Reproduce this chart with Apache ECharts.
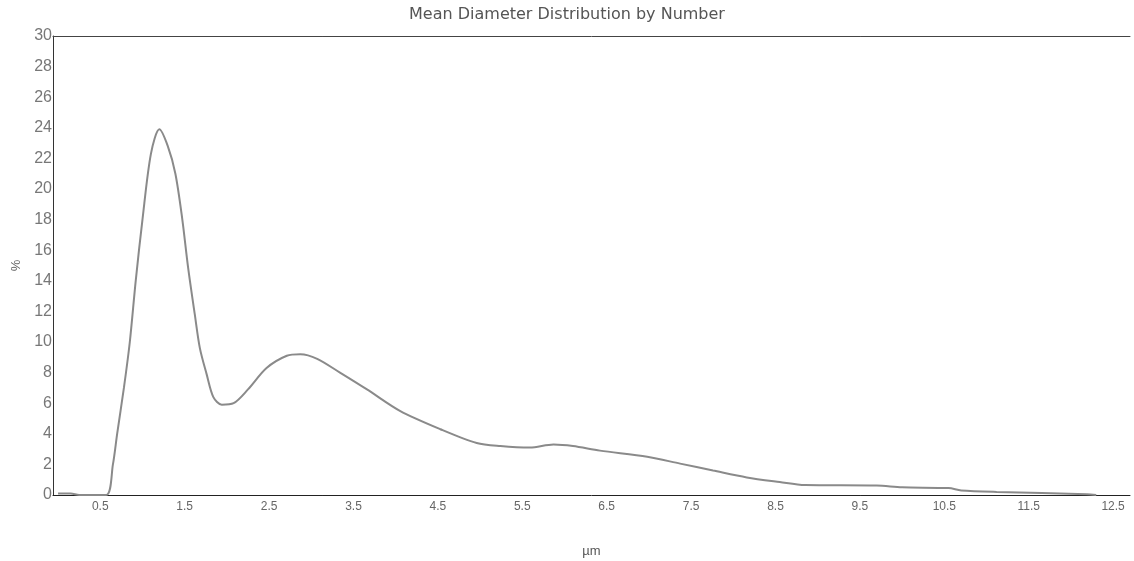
<!DOCTYPE html>
<html>
<head>
<meta charset="utf-8">
<script src="https://cdn.jsdelivr.net/npm/echarts@6/dist/echarts.min.js"></script>
<style>
  html, body { margin: 0; padding: 0; background: #fff; }
  #main { width: 1134px; height: 561px; }
</style>
</head>
<body>
<div id="main"></div>
<script>
// diameter (µm) and % by number
const diameter = [0, 0.15, 0.25, 0.57, 0.65, 0.70, 0.78, 0.85, 0.92, 1.0, 1.1, 1.2, 1.3, 1.39, 1.47, 1.54, 1.62, 1.68, 1.76, 1.84, 1.94, 2.08, 2.25, 2.47, 2.71, 2.87, 3.07, 3.34, 3.66, 4.05, 4.53, 4.96, 5.24, 5.59, 5.87, 6.1, 6.42, 6.98, 7.37, 7.76, 8.16, 8.55, 8.85, 9.7, 10.0, 10.55, 10.7, 11.12, 12.19, 12.3];
const percent = [0.1, 0.1, 0, 0, 2.0, 4.0, 7.0, 10.0, 14.0, 18.0, 22.3, 23.9, 22.8, 21.0, 18.1, 14.9, 11.8, 9.6, 7.9, 6.4, 5.9, 6.0, 6.9, 8.3, 9.1, 9.2, 8.9, 8.0, 6.9, 5.5, 4.3, 3.4, 3.2, 3.1, 3.3, 3.2, 2.9, 2.5, 2.05, 1.6, 1.15, 0.85, 0.65, 0.62, 0.5, 0.45, 0.3, 0.2, 0.05, 0];
const xTicks = [0.5, 1.5, 2.5, 3.5, 4.5, 5.5, 6.5, 7.5, 8.5, 9.5, 10.5, 11.5, 12.5];

let chart = echarts.init(document.getElementById('main'));
let option = {
  backgroundColor: '#fff',
  animation: false,
  title: {
    text: 'Mean Diameter Distribution by Number',
    left: 'center',
    top: 2,
    textStyle: { fontFamily: 'DejaVu Sans', fontSize: 16, fontWeight: 'normal', color: '#555' }
  },
  grid: { left: 53, right: 4, top: 36, bottom: 66, outerBoundsMode: 'none' },
  xAxis: [{
    type: 'value',
    min: -0.06,
    max: 12.7,
    name: 'µm',
    nameLocation: 'middle',
    nameGap: 50,
    nameTextStyle: { fontFamily: 'Liberation Sans', fontSize: 13, color: '#555' },
    axisLine: { show: true, onZero: false, lineStyle: { color: '#222', width: 1 } },
    axisTick: { show: false },
    splitLine: { show: false },
    axisLabel: {
      customValues: xTicks,
      margin: 6,
      fontFamily: 'Liberation Sans',
      fontSize: 12,
      color: '#666'
    }
  }, {
    type: 'value',
    position: 'top',
    min: -0.06,
    max: 12.7,
    axisLine: { show: true, onZero: false, lineStyle: { color: '#444', width: 1 } },
    axisTick: { show: false },
    axisLabel: { show: false },
    splitLine: { show: false }
  }],
  yAxis: {
    type: 'value',
    min: 0,
    max: 30,
    interval: 2,
    name: '%',
    nameLocation: 'middle',
    nameGap: 22,
    nameTextStyle: { fontFamily: 'Liberation Sans', fontSize: 13, color: '#666' },
    axisLine: { show: true, onZero: false, lineStyle: { color: '#333', width: 1 } },
    axisTick: { show: false },
    splitLine: { show: false },
    axisLabel: { margin: 1, fontFamily: 'Liberation Sans', fontSize: 16, color: '#777' }
  },
  series: [{
    type: 'line',
    data: diameter.map((d, i) => [d, percent[i]]),
    smooth: 0.3,
    showSymbol: false,
    lineStyle: { color: '#8a8a8a', width: 2 }
  }]
};
chart.setOption(option);
</script>
</body>
</html>
